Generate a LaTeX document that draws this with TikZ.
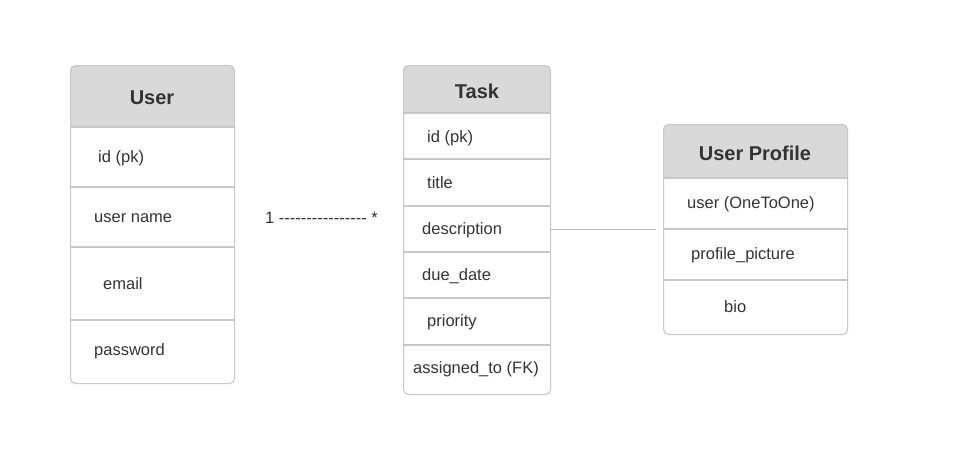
\documentclass[tikz,border=0pt]{standalone}
\usepackage{fontspec}
\setmainfont{Liberation Sans}[Ligatures=ResetAll]
\begin{document}
\begin{tikzpicture}[x=1pt,y=-1pt,
  entity/.style={draw=boxgray, line width=1.1pt, rounded corners=5pt, inner sep=0pt, anchor=north west},
  hdr/.style={fill=hdrgray},
  sep/.style={draw=boxgray, line width=1.1pt},
  fld/.style={anchor=west, inner sep=0pt, text=txt, font=\fontsize{16.5}{19}\selectfont},
  title/.style={anchor=center, inner sep=0pt, text=txt, font=\fontsize{20}{24}\selectfont\bfseries},
  link/.style={draw=linegray, line width=1pt}]
\definecolor{boxgray}{HTML}{C8C8C8}
\definecolor{hdrgray}{HTML}{D9D9D9}
\definecolor{linegray}{HTML}{BDBDBD}
\definecolor{txt}{HTML}{333333}
\useasboundingbox (0,0) rectangle (970,466);
% User
\begin{scope}
\clip[rounded corners=5pt] (70,65) rectangle (234,383);
\fill[hdr] (70,65) rectangle (234,127);
\end{scope}
\node[entity, minimum width=164pt, minimum height=318pt] (user) at (70,65) {};
\draw[sep] (70,127) -- (234,127);
\draw[sep] (70,187) -- (234,187);
\draw[sep] (70,247) -- (234,247);
\draw[sep] (70,320) -- (234,320);
\node[title] (userT) at (152,98) {User};
\node[fld] (u1) at (98,158) {id (pk)};
\node[fld] (u2) at (94,218) {user name};
\node[fld] (u3) at (103,284) {email};
\node[fld] (u4) at (94,351) {password};
% Task
\begin{scope}
\clip[rounded corners=5pt] (403,65) rectangle (550,394);
\fill[hdr] (403,65) rectangle (550,113);
\end{scope}
\node[entity, minimum width=147pt, minimum height=329pt] (task) at (403,65) {};
\draw[sep] (403,113) -- (550,113);
\draw[sep] (403,159) -- (550,159);
\draw[sep] (403,206) -- (550,206);
\draw[sep] (403,252) -- (550,252);
\draw[sep] (403,298) -- (550,298);
\draw[sep] (403,345) -- (550,345);
\node[title] (taskT) at (477,91) {Task};
\node[fld] (t1) at (427,138) {id (pk)};
\node[fld] (t2) at (427,183) {title};
\node[fld] (t3) at (422,230) {description};
\node[fld] (t4) at (422,276) {due\_date};
\node[fld] (t5) at (427,322) {priority};
\node[fld] (t6) at (413,369) {assigned\_to (FK)};
% User Profile
\begin{scope}
\clip[rounded corners=5pt] (663,124) rectangle (847,334);
\fill[hdr] (663,124) rectangle (847,178);
\end{scope}
\node[entity, minimum width=184pt, minimum height=210pt] (prof) at (663,124) {};
\draw[sep] (663,178) -- (847,178);
\draw[sep] (663,229) -- (847,229);
\draw[sep] (663,280) -- (847,280);
\node[title] (profT) at (755,153) {User Profile};
\node[fld] (p1) at (687,204) {user (OneToOne)};
\node[fld] (p2) at (691,255) {profile\_picture};
\node[fld] (p3) at (724,307) {bio};
% relation text and connector
\node[fld] (rel) at (265,218) {1 -{}-{}-{}-{}-{}-{}-{}-{}-{}-{}-{}-{}-{}-{}-{}- *};
\coordinate (pend) at (656,229);
\draw[link] (task.east |- 0,229) -- (pend);
\end{tikzpicture}
\end{document}
